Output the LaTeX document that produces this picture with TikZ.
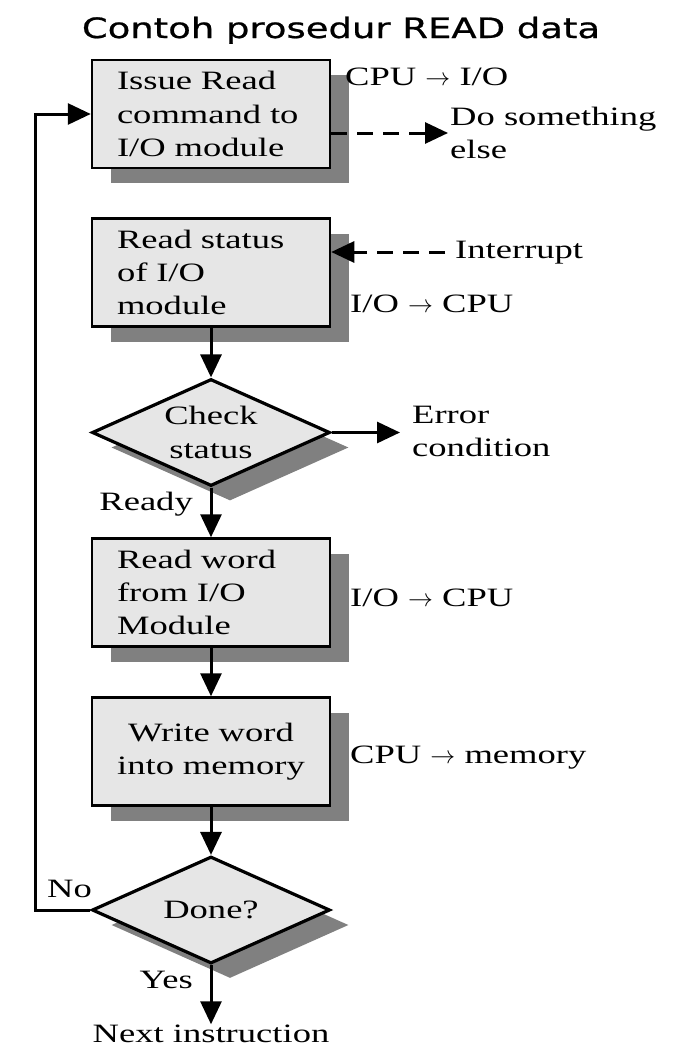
\documentclass[tikz,border=0pt]{standalone}
\usepackage{fontspec}
\usetikzlibrary{shapes.geometric,arrows.meta,shadows}
\newfontfamily\tms[FakeStretch=1.38]{Liberation Serif}
\newfontfamily\ttlfont[FakeStretch=1.32,FakeBold=0.8]{DejaVu Sans}
\definecolor{boxfill}{RGB}{230,230,230}
\definecolor{shgray}{RGB}{128,128,128}
\begin{document}
\begin{tikzpicture}[x=1pt,y=-1pt,
  txt/.style={font=\tms\fontsize{26.5}{33.3}\selectfont, inner sep=0pt},
  shad/.style={drop shadow={shadow xshift=19pt,shadow yshift=-15pt,fill=shgray,opacity=1}},
  proc/.style={txt, shad, draw=black, line width=2.5pt, fill=boxfill,
    minimum width=238pt, minimum height=108pt, text width=188pt,
    inner xsep=25pt, inner ysep=0pt, align=left},
  dec/.style={txt, shad, diamond, aspect=2.22, draw=black, line width=3.2pt,
    fill=boxfill, minimum width=238pt, minimum height=107pt, align=center},
  flow/.style={line width=3pt, line join=miter, -{Triangle[length=23pt,width=21pt]}},
  dflow/.style={flow, dash pattern=on 16pt off 10pt},
  lbl/.style={txt, align=left}
]
\fill[white] (0,0) rectangle (672,1057);
\useasboundingbox (0,0) rectangle (672,1057);

\node[font=\ttlfont\fontsize{28}{34}\selectfont, anchor=base, inner sep=0pt] (title) at (341,38) {Contoh prosedur READ data};

\node[proc] (box1) at (211,114) {Issue Read\\command to\\I/O module};
\node[proc] (box2) at (211,272.5) {Read status\\of I/O\\module};
\node[dec] (diam1) at (211,432.5) {Check\\status};
\node[proc] (box3) at (211,592.5) {Read word\\from I/O\\Module};
\node[proc, align=center] (box4) at (211,751.5) {Write word\\into memory};
\node[dec] (diam2) at (211,910) {Done?};

\node[txt, anchor=base west] (l1) at (345,85) {CPU $\rightarrow$ I/O};
\node[lbl, anchor=north west] (dso) at (450,107) {Do something\\else};
\node[txt, anchor=base west] (intr) at (455,258) {Interrupt};
\node[txt, anchor=base west] (l2) at (350,312) {I/O $\rightarrow$ CPU};
\node[lbl, anchor=north west] (err) at (412,405.5) {Error\\condition};
\node[txt, anchor=base east] (ready) at (193,510) {Ready};
\node[txt, anchor=base west] (l3) at (350,606) {I/O $\rightarrow$ CPU};
\node[txt, anchor=base west] (l4) at (350,763) {CPU $\rightarrow$ memory};
\node[txt, anchor=base east] (no) at (92,897) {No};
\node[txt, anchor=base east] (yes) at (193,988) {Yes};
\node[txt, anchor=base] (next) at (211,1042) {Next instruction};

\coordinate (d1) at (448,133);
\coordinate (i1) at (445,252);
\coordinate (e1) at (400,432.5);
\coordinate (lp) at (35,910);

\draw[dflow] (box1.east |- d1) -- (d1);
\draw[dflow] (i1) -- (box2.east |- i1);
\draw[flow] (box2.south) -- (diam1.north);
\draw[flow] (diam1.east) -- (e1);
\draw[flow] (diam1.south) -- (box3.north);
\draw[flow] (box3.south) -- (box4.north);
\draw[flow] (box4.south) -- (diam2.north);
\draw[flow] (diam2.south) -- (next.north);
\draw[flow] (diam2.west) -- (lp) |- (box1.west);
\end{tikzpicture}
\end{document}
